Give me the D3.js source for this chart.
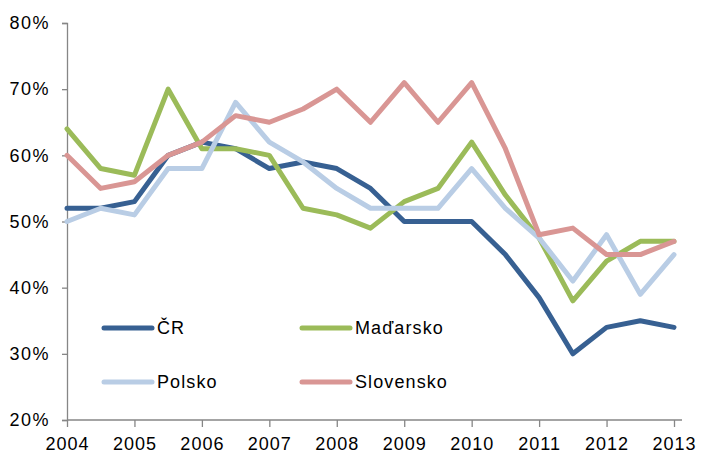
<!DOCTYPE html>
<html>
<head>
<meta charset="utf-8">
<script src="https://cdn.jsdelivr.net/npm/d3@7"></script>
<style>
  body { margin: 0; background: #fff; }
  text { font-family: "Liberation Sans", Arial, sans-serif; fill: #000; }
</style>
</head>
<body>
<div class="chart"></div>
<script>
// half-year steps 2004 .. 2013
var periods = d3.range(19).map(function (i) { return 2004 + i / 2 })
var yearTicks = [2004, 2005, 2006, 2007, 2008, 2009, 2010, 2011, 2012, 2013]
var pctTicks = [20, 30, 40, 50, 60, 70, 80]

var cr = [52, 52, 53, 60, 62, 61, 58, 59, 58, 55, 50, 50, 50, 45, 38.5, 30, 34, 35, 34]
var madarsko = [64, 58, 57, 70, 61, 61, 60, 52, 51, 49, 53, 55, 62, 54, 47.5, 38, 44, 47, 47]
var polsko = [50, 52, 51, 58, 58, 68, 62, 59, 55, 52, 52, 52, 58, 52, 47.5, 41, 48, 39, 45]
var slovensko = [60, 55, 56, 60, 62, 66, 65, 67, 70, 65, 71, 65, 71, 61, 48, 49, 45, 45, 47]

var seriesNames = ['ČR', 'Maďarsko', 'Polsko', 'Slovensko']
var seriesValues = [cr, madarsko, polsko, slovensko]
var colors = ['#376092', '#9bbb59', '#b9cde5', '#d99694']

var W = 704, H = 452
var margin = {top: 23, right: 23, bottom: 32, left: 67}
var width = W - margin.left - margin.right
var height = H - margin.top - margin.bottom

var svg = d3.select('.chart')
    .append('svg')
    .attr('width', W)
    .attr('height', H)

var g = svg.append('g')
    .attr('transform', 'translate(' + margin.left + ',' + margin.top + ')')

var xScale = d3.scaleLinear()
    .domain([2004, 2013])
    .range([0, 607])

var yScale = d3.scaleLinear()
    .domain([20, 80])
    .range([height, 0])

var axisColor = '#868686'

// y axis
var yAxis = d3.axisLeft(yScale)
    .tickValues(pctTicks)
    .tickSize(5)
    .tickPadding(12)
    .tickFormat(function (d) { return d + '%' })
var gy = g.append('g').call(yAxis)
gy.select('.domain').attr('stroke', axisColor).attr('stroke-width', 1.3)
gy.selectAll('.tick line').attr('stroke', axisColor).attr('stroke-width', 1.3)
gy.selectAll('.tick text')
    .attr('font-size', 18)
    .attr('letter-spacing', 1.5)
    .attr('fill', '#000')

// x axis
var xAxis = d3.axisBottom(xScale)
    .tickValues(yearTicks)
    .tickSize(7)
    .tickPadding(10)
    .tickFormat(d3.format('d'))
var gx = g.append('g')
    .attr('transform', 'translate(0,' + height + ')')
    .call(xAxis)
gx.select('.domain').remove()
gx.append('line')
    .attr('x1', 0).attr('x2', 615)
    .attr('stroke', axisColor).attr('stroke-width', 1.3)
gx.selectAll('.tick line').attr('stroke', axisColor).attr('stroke-width', 1.3)
gx.selectAll('.tick text')
    .attr('font-size', 18)
    .attr('letter-spacing', 1)
    .attr('fill', '#000')

// lines
var line = d3.line()
    .x(function (d, i) { return xScale(periods[i]) })
    .y(function (d) { return yScale(d) })

g.selectAll('.series')
    .data(seriesValues)
    .enter()
    .append('path')
    .attr('class', 'series')
    .attr('d', line)
    .attr('fill', 'none')
    .attr('stroke', function (d, i) { return colors[i] })
    .attr('stroke-width', 5)
    .attr('stroke-linejoin', 'round')
    .attr('stroke-linecap', 'round')

// legend
var legendPos = [[104, 328], [302, 328], [104, 382], [302, 382]]
var legend = svg.selectAll('.legend')
    .data(seriesNames)
    .enter()
    .append('g')
    .attr('class', 'legend')
    .attr('transform', function (d, i) { return 'translate(' + legendPos[i][0] + ',' + legendPos[i][1] + ')' })

legend.append('line')
    .attr('x1', 0).attr('x2', 48)
    .attr('stroke', function (d, i) { return colors[i] })
    .attr('stroke-width', 5)
    .attr('stroke-linecap', 'round')

legend.append('text')
    .attr('x', 53)
    .attr('dy', '0.35em')
    .attr('font-size', 18)
    .attr('letter-spacing', 1.1)
    .text(function (d) { return d })
</script>
</body>
</html>
